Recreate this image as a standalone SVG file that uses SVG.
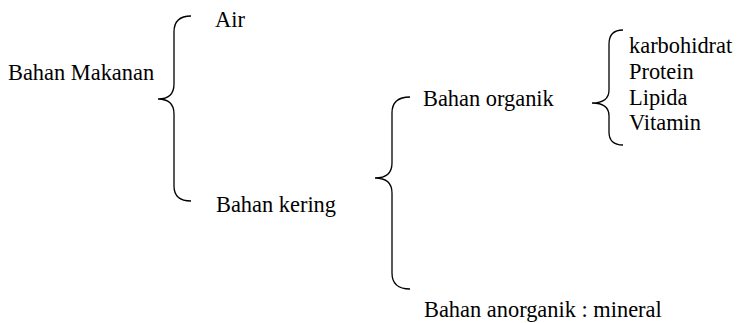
<svg xmlns="http://www.w3.org/2000/svg" width="737" height="323" viewBox="0 0 737 323">
<style>
.brace{fill:none;stroke:#000;stroke-width:1.3}
</style>
<rect width="737" height="323" fill="#fff"/>
<g id="connectors">
<path class="brace" d="M191,16 Q174,16 174,32 L174,84 Q174,99 158,99 Q174,99 174,114 L174,186 Q174,201 191,201"/>
<path class="brace" d="M410,97 Q392,97 392,113 L392,163 Q392,178 375,178 Q392,178 392,193 L392,273 Q392,289 410,289"/>
<path class="brace" d="M623,30 Q609,30 609,44 L609,90 Q609,103 592,103 Q609,103 609,116 L609,132 Q609,145 623,145"/>
</g>
<g font-family="'Liberation Serif', 'DejaVu Serif', serif" font-size="22.4" fill="#000">
<g id="bahan-makanan"><text x="8" y="80">Bahan Makanan</text></g>
<g id="air"><text x="215" y="27">Air</text></g>
<g id="bahan-kering"><text x="216" y="212">Bahan kering</text></g>
<g id="bahan-organik"><text x="423" y="106">Bahan organik</text></g>
<g id="bahan-anorganik"><text x="424" y="317">Bahan anorganik : mineral</text></g>
<g id="karbohidrat"><text x="629" y="53">karbohidrat</text></g>
<g id="protein"><text x="629" y="79">Protein</text></g>
<g id="lipida"><text x="629" y="105">Lipida</text></g>
<g id="vitamin"><text x="629" y="130">Vitamin</text></g>
</g>
</svg>
